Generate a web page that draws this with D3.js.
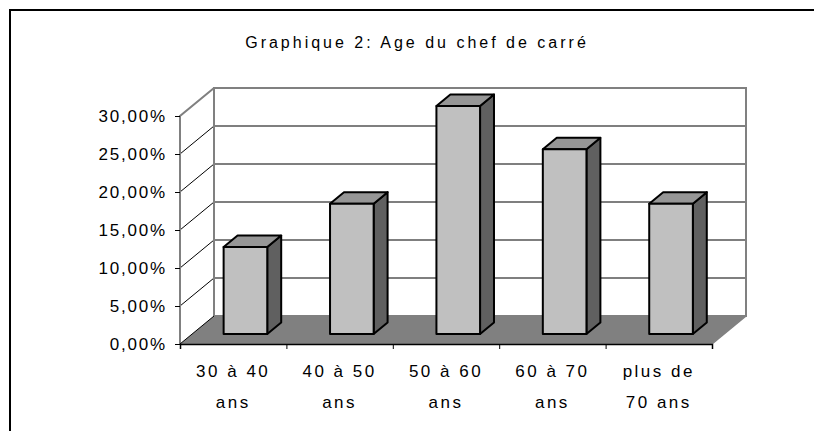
<!DOCTYPE html>
<html>
<head>
<meta charset="utf-8">
<script src="https://cdn.jsdelivr.net/npm/d3@7"></script>
<style>
  body { margin: 0; background: #fff; overflow: hidden; }
  svg { display: block; font-family: "Liberation Sans", Arial, sans-serif; }
</style>
</head>
<body>
<div id="chart"></div>
<script>
// data
const categories = [["30 à 40", "ans"], ["40 à 50", "ans"], ["50 à 60", "ans"], ["60 à 70", "ans"], ["plus de", "70 ans"]];
const values = [0.1143, 0.1714, 0.30, 0.2429, 0.1714];
const yTicks = [0, 0.05, 0.10, 0.15, 0.20, 0.25, 0.30];
const title = "Graphique 2: Age du chef de carré";

const width = 814, height = 431;
const depth = { dx: 34, dy: 28 };   // oblique offset of the back wall
const barDepth = [0.36, 0.77];      // bars sit between these depth fractions

const svg = d3.select('#chart').append('svg')
    .attr('width', width)
    .attr('height', height);

// outer frame (right and bottom edges fall outside the picture)
svg.append('path')
    .attr('d', `M10,${height}L10,10L${width},10`)
    .attr('fill', 'none')
    .attr('stroke', '#000')
    .attr('stroke-width', 2);

svg.append('text')
    .attr('x', 417).attr('y', 48)
    .attr('text-anchor', 'middle')
    .attr('font-size', 16)
    .attr('letter-spacing', 3)
    .text(title);

const x = d3.scaleBand()
    .domain(d3.range(categories.length))
    .range([180, 712])
    .paddingInner(0.59)
    .paddingOuter(0.295);

const y = d3.scaleLinear()
    .domain([0, 0.30])
    .range([344, 116]);

// project a point (screen x, value, depth fraction)
const P = (px, v, z) => [px + z * depth.dx, y(v) - z * depth.dy];
const poly = pts => 'M' + pts.map(p => p.join(',')).join('L') + 'Z';

const x0 = x.range()[0], x1 = x.range()[1];
const vMax = y.domain()[1];

// floor
svg.append('path')
    .attr('d', poly([P(x0, 0, 0), P(x1, 0, 0), P(x1, 0, 1), P(x0, 0, 1)]))
    .attr('fill', '#808080');

// back wall gridlines
svg.append('g').selectAll('line')
    .data(yTicks.slice(1, -1))
    .join('line')
    .attr('x1', x0 + depth.dx).attr('x2', x1 + depth.dx)
    .attr('y1', d => y(d) - depth.dy).attr('y2', d => y(d) - depth.dy)
    .attr('stroke', '#555')
    .attr('stroke-width', 1.5);

// side wall diagonals
svg.append('g').selectAll('line')
    .data(yTicks.slice(1, -1))
    .join('line')
    .attr('x1', d => P(x0, d, 0)[0]).attr('y1', d => P(x0, d, 0)[1])
    .attr('x2', d => P(x0, d, 1)[0]).attr('y2', d => P(x0, d, 1)[1])
    .attr('stroke', '#000')
    .attr('stroke-width', 1);

// wall outlines
const wall = svg.append('g')
    .attr('fill', 'none')
    .attr('stroke', '#808080')
    .attr('stroke-width', 2);
wall.append('path')
    .attr('d', poly([P(x0, 0, 1), P(x1, 0, 1), P(x1, vMax, 1), P(x0, vMax, 1)]));
wall.append('path')
    .attr('d', 'M' + [P(x0, 0, 0), P(x0, vMax, 0), P(x0, vMax, 1)].map(p => p.join(',')).join('L'));
svg.append('path')
    .attr('d', 'M' + [P(x0, 0, 0), P(x0, 0, 1)].join('L'))
    .attr('stroke', '#000').attr('stroke-width', 1);
svg.append('path')
    .attr('d', 'M' + [P(x1, 0, 0), P(x1, 0, 1)].join('L'))
    .attr('stroke', '#808080').attr('stroke-width', 1.5);

// bars
const bars = svg.append('g').selectAll('g')
    .data(values)
    .join('g')
    .attr('stroke', '#000')
    .attr('stroke-width', 2)
    .attr('stroke-linejoin', 'round');

const [zf, zb] = barDepth;
bars.append('path') // side
    .attr('d', (d, i) => {
        const r = x(i) + x.bandwidth();
        return poly([P(r, 0, zf), P(r, d, zf), P(r, d, zb), P(r, 0, zb)]);
    })
    .attr('fill', '#606060');
bars.append('path') // top
    .attr('d', (d, i) => {
        const l = x(i), r = x(i) + x.bandwidth();
        return poly([P(l, d, zf), P(r, d, zf), P(r, d, zb), P(l, d, zb)]);
    })
    .attr('fill', '#969696');
bars.append('path') // front
    .attr('d', (d, i) => {
        const l = x(i), r = x(i) + x.bandwidth();
        return poly([P(l, 0, zf), P(r, 0, zf), P(r, d, zf), P(l, d, zf)]);
    })
    .attr('fill', '#c0c0c0');

// y axis
const yAxis = svg.append('g')
    .attr('transform', `translate(${x0},0)`)
    .call(d3.axisLeft(y).tickValues(yTicks).tickSize(5).tickPadding(8)
        .tickFormat(d => d3.format('.2f')(d * 100).replace('.', ',') + '%'));
yAxis.select('.domain').remove();
yAxis.selectAll('.tick line').attr('stroke', '#000');
yAxis.selectAll('.tick text')
    .attr('font-size', 17)
    .attr('letter-spacing', 1.8)
    .attr('fill', '#000');

// x axis
const xb = d3.scaleLinear().domain([0, categories.length]).range([x0, x1]);
const xAxis = svg.append('g')
    .attr('transform', `translate(0,${y(0)})`)
    .call(d3.axisBottom(xb).ticks(categories.length).tickSize(5).tickFormat(''));
xAxis.select('.domain').attr('stroke', '#000').attr('stroke-width', 1.5);
xAxis.selectAll('.tick line').attr('stroke', '#000');

const labels = svg.append('g').selectAll('text')
    .data(categories)
    .join('text')
    .attr('text-anchor', 'middle')
    .attr('font-size', 17)
    .attr('letter-spacing', 2.5)
    .attr('x', (d, i) => x(i) + x.bandwidth() / 2)
    .attr('y', 377);
labels.selectAll('tspan')
    .data(d => d)
    .join('tspan')
    .attr('x', function () { return this.parentNode.getAttribute('x'); })
    .attr('dy', (d, i) => i === 0 ? 0 : 31)
    .text(d => d);
</script>
</body>
</html>
